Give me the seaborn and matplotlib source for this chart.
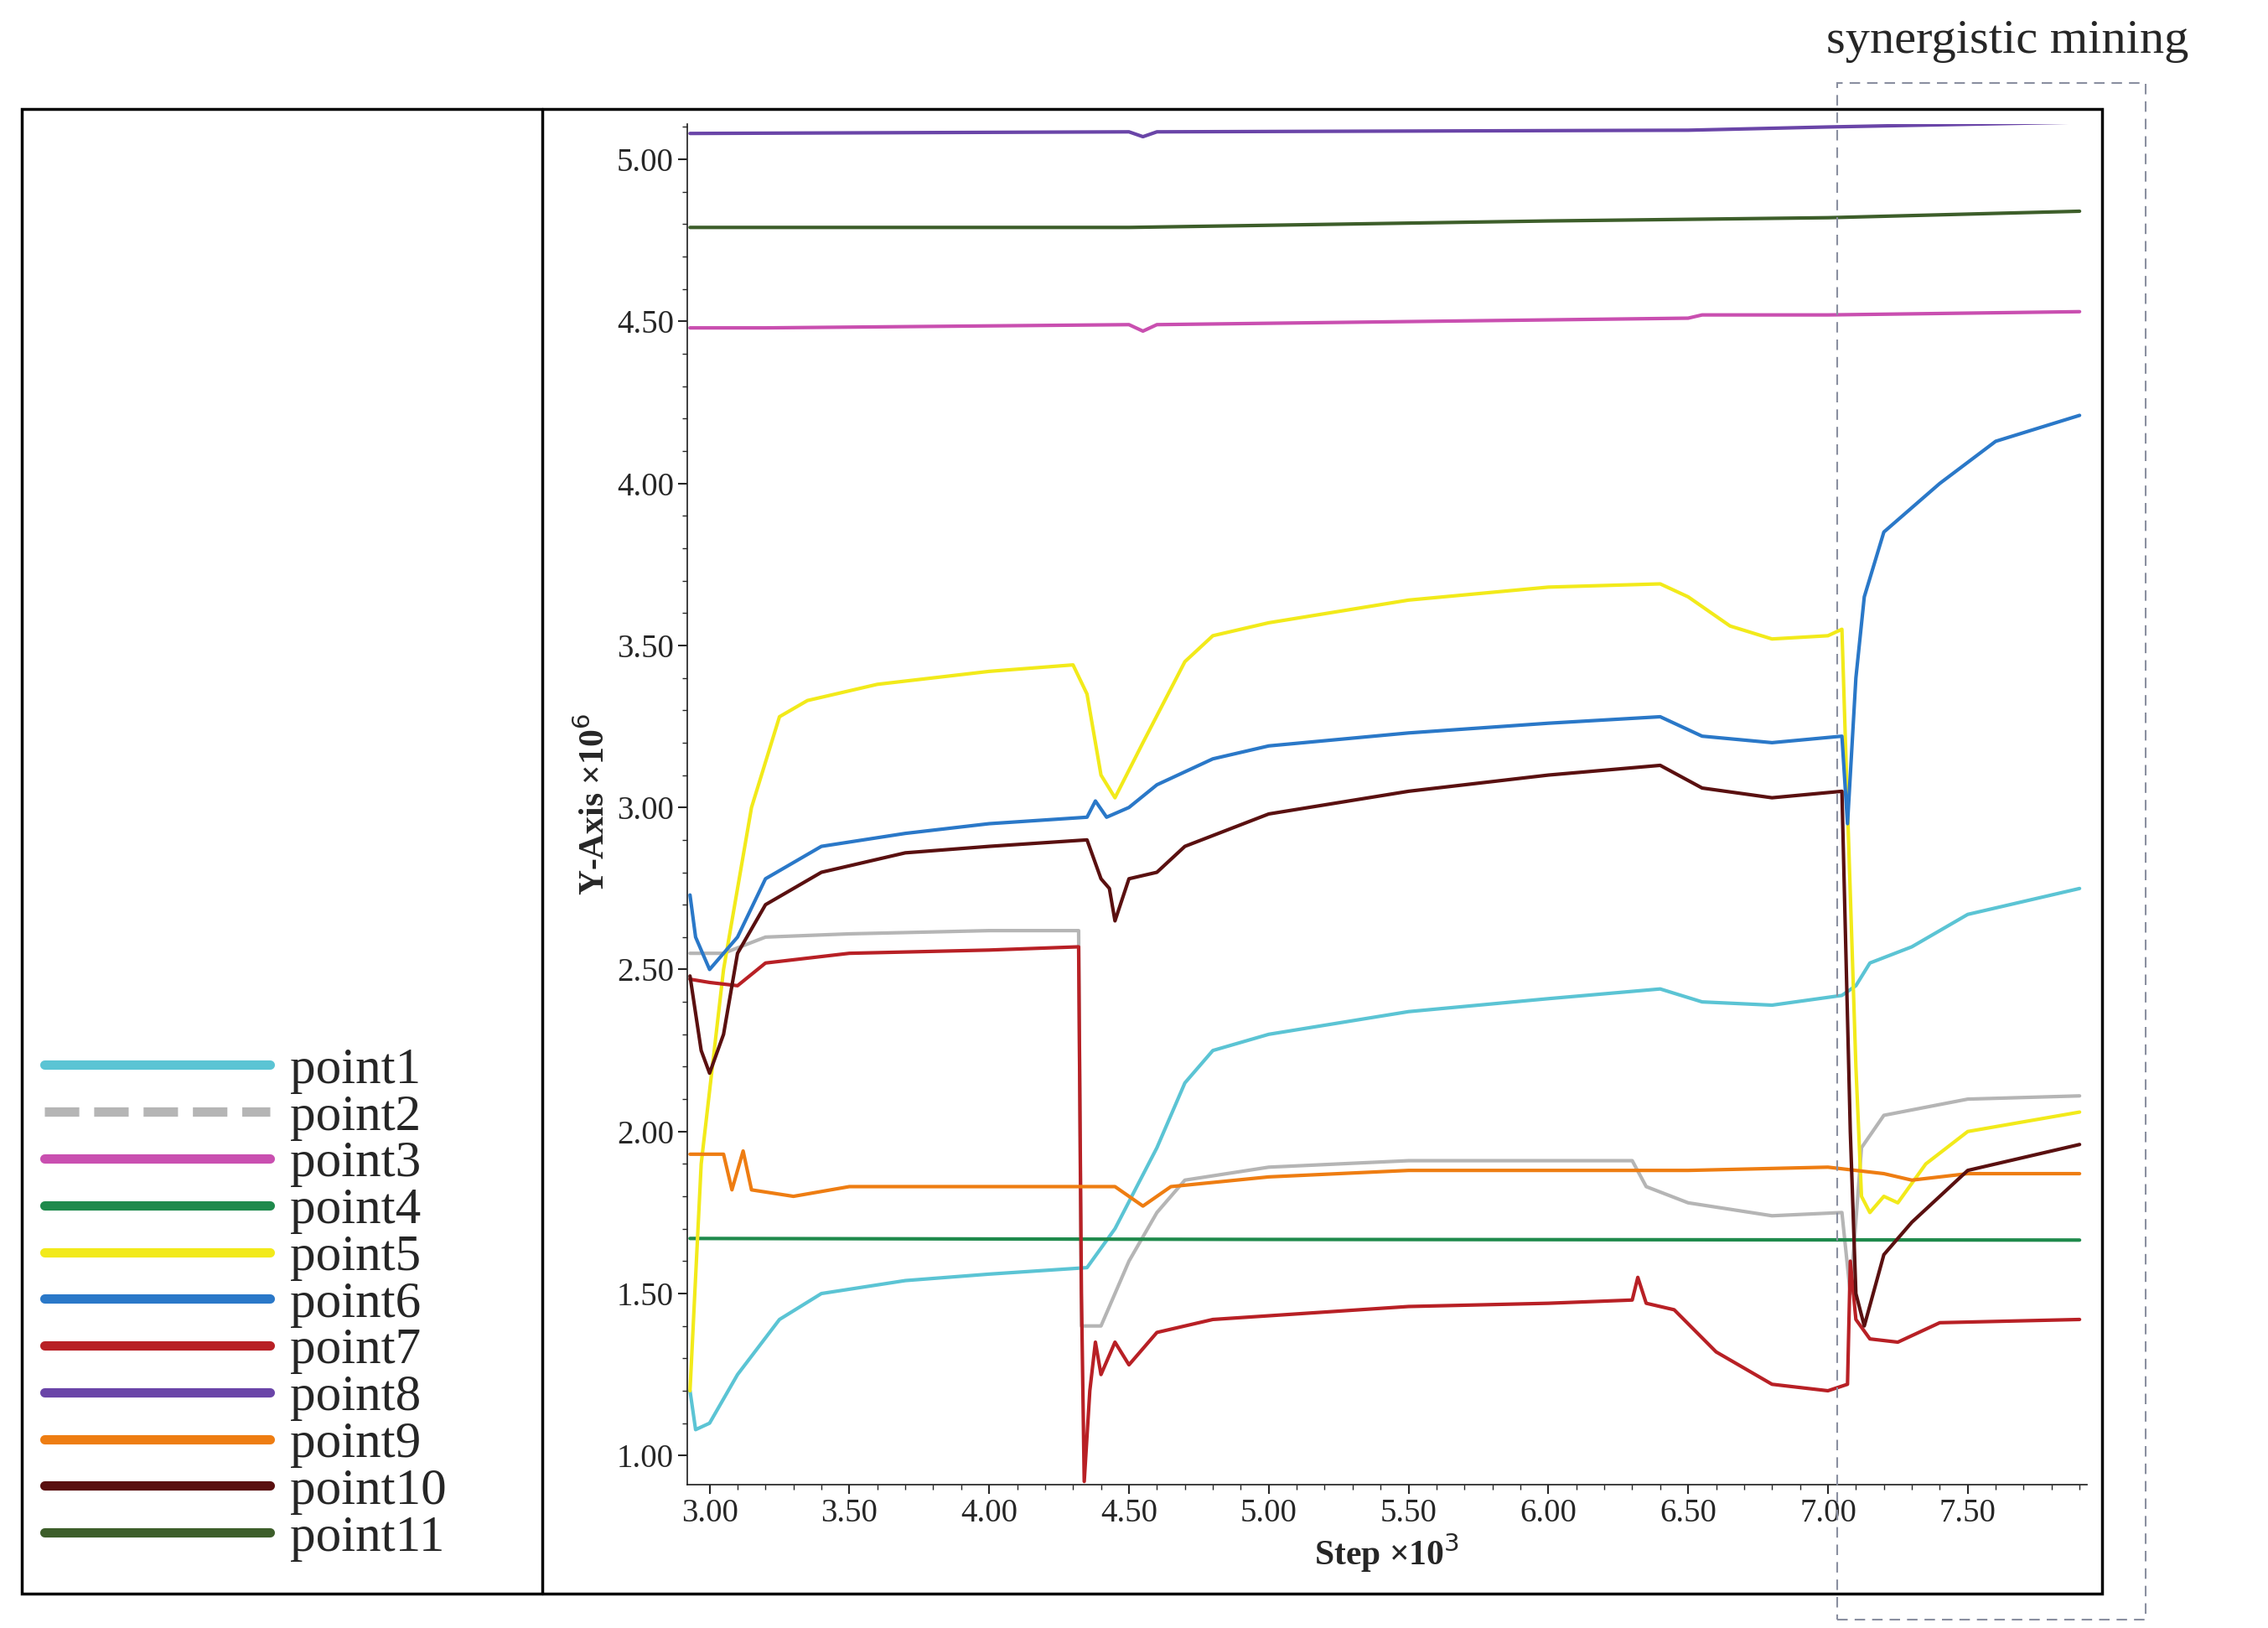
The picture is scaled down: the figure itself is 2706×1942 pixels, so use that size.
import matplotlib
matplotlib.use("Agg")
import matplotlib.pyplot as plt
import seaborn as sns
import pandas as pd
from matplotlib.patches import Rectangle
from matplotlib.lines import Line2D
from matplotlib.ticker import MultipleLocator, FormatStrFormatter

sns.set_theme(style="ticks")
plt.rcParams['font.family'] = ['Liberation Serif', 'DejaVu Serif']

p1x=[2.93,2.95,3.0,3.1,3.25,3.4,3.7,4.0,4.35,4.45,4.6,4.7,4.8,5.0,5.5,6.0,6.4,6.55,6.8,7.05,7.1,7.15,7.3,7.5,7.9]
p1y=[1.2,1.08,1.1,1.25,1.42,1.5,1.54,1.56,1.58,1.7,1.95,2.15,2.25,2.3,2.37,2.41,2.44,2.4,2.39,2.42,2.45,2.52,2.57,2.67,2.75]
p2x=[2.93,3.05,3.2,3.5,4.0,4.32,4.33,4.4,4.5,4.6,4.7,5.0,5.5,6.0,6.3,6.35,6.5,6.8,7.05,7.08,7.12,7.2,7.5,7.9]
p2y=[2.55,2.55,2.6,2.61,2.62,2.62,1.4,1.4,1.6,1.75,1.85,1.89,1.91,1.91,1.91,1.83,1.78,1.74,1.75,1.5,1.95,2.05,2.1,2.11]
p3x=[2.93,3.2,4.5,4.55,4.6,6.5,6.55,7.0,7.9]
p3y=[4.48,4.48,4.49,4.47,4.49,4.51,4.52,4.52,4.53]
p4x=[2.93,5.0,7.9]
p4y=[1.67,1.667,1.665]
p5x=[2.93,2.97,3.05,3.15,3.25,3.35,3.6,4.0,4.3,4.35,4.4,4.45,4.55,4.7,4.8,5.0,5.5,6.0,6.4,6.5,6.65,6.8,7.0,7.05,7.07,7.1,7.12,7.15,7.2,7.25,7.35,7.5,7.9]
p5y=[1.2,1.9,2.5,3.0,3.28,3.33,3.38,3.42,3.44,3.35,3.1,3.03,3.2,3.45,3.53,3.57,3.64,3.68,3.69,3.65,3.56,3.52,3.53,3.55,3.0,2.2,1.8,1.75,1.8,1.78,1.9,2.0,2.06]
p6x=[2.93,2.95,3.0,3.1,3.2,3.4,3.7,4.0,4.35,4.38,4.42,4.5,4.6,4.8,5.0,5.5,6.0,6.4,6.55,6.8,7.05,7.07,7.1,7.13,7.2,7.4,7.6,7.9]
p6y=[2.73,2.6,2.5,2.6,2.78,2.88,2.92,2.95,2.97,3.02,2.97,3.0,3.07,3.15,3.19,3.23,3.26,3.28,3.22,3.2,3.22,2.95,3.4,3.65,3.85,4.0,4.13,4.21]
p7x=[2.93,3.0,3.1,3.2,3.5,4.0,4.32,4.33,4.34,4.36,4.38,4.4,4.45,4.5,4.6,4.8,5.5,6.0,6.3,6.32,6.35,6.45,6.6,6.8,7.0,7.07,7.08,7.1,7.15,7.25,7.4,7.9]
p7y=[2.47,2.46,2.45,2.52,2.55,2.56,2.57,1.5,0.92,1.2,1.35,1.25,1.35,1.28,1.38,1.42,1.46,1.47,1.48,1.55,1.47,1.45,1.32,1.22,1.2,1.22,1.6,1.42,1.36,1.35,1.41,1.42]
p8x=[2.93,4.5,4.55,4.6,6.5,7.0,7.9]
p8y=[5.08,5.085,5.07,5.085,5.09,5.10,5.115]
p9x=[2.93,3.05,3.08,3.12,3.15,3.3,3.5,4.0,4.45,4.55,4.65,5.0,5.5,6.0,6.5,7.0,7.2,7.3,7.5,7.9]
p9y=[1.93,1.93,1.82,1.94,1.82,1.8,1.83,1.83,1.83,1.77,1.83,1.86,1.88,1.88,1.88,1.89,1.87,1.85,1.87,1.87]
p10x=[2.93,2.97,3.0,3.05,3.1,3.2,3.4,3.7,4.0,4.35,4.4,4.43,4.45,4.5,4.6,4.7,5.0,5.5,6.0,6.4,6.55,6.8,7.05,7.08,7.1,7.13,7.2,7.3,7.5,7.9]
p10y=[2.48,2.25,2.18,2.3,2.55,2.7,2.8,2.86,2.88,2.9,2.78,2.75,2.65,2.78,2.8,2.88,2.98,3.05,3.1,3.13,3.06,3.03,3.05,2.0,1.5,1.4,1.62,1.72,1.88,1.96]
p11x=[2.93,4.5,6.0,7.0,7.9]
p11y=[4.79,4.79,4.81,4.82,4.84]

names=["point1","point2","point3","point4","point5","point6","point7","point8","point9","point10","point11"]
colors=["#5bc4d4","#b5b5b5","#c94fb0","#1f8a4c","#f2ea1a","#2a78c8","#b82025","#6a45a8","#ee7d12","#5a1010","#3d5e2a"]
series=[(p1x,p1y),(p2x,p2y),(p3x,p3y),(p4x,p4y),(p5x,p5y),(p6x,p6y),(p7x,p7y),(p8x,p8y),(p9x,p9y),(p10x,p10y),(p11x,p11y)]
rows=[]
for n,(xs,ys) in zip(names,series):
    for x,y in zip(xs,ys):
        rows.append({"step":x,"val":y,"name":n})
df=pd.DataFrame(rows)

fig=plt.figure(figsize=(27.06,19.42),dpi=100)
ax=fig.add_axes([0.303,0.088,0.617,0.836])
sns.lineplot(data=df,x="step",y="val",hue="name",palette=dict(zip(names,colors)),
             sort=False,estimator=None,linewidth=3,ax=ax,legend=False)
ax.set_xlim(2.92,7.925); ax.set_ylim(0.91,5.11)
ax.xaxis.set_major_locator(MultipleLocator(0.5)); ax.xaxis.set_minor_locator(MultipleLocator(0.1))
ax.yaxis.set_major_locator(MultipleLocator(0.5)); ax.yaxis.set_minor_locator(MultipleLocator(0.1))
ax.xaxis.set_major_formatter(FormatStrFormatter('%.2f')); ax.yaxis.set_major_formatter(FormatStrFormatter('%.2f'))
ax.tick_params(labelsize=28, direction='out', length=8, width=1.5)
ax.tick_params(which='minor', length=4)
for s in ['top','right']: ax.spines[s].set_visible(False)
ax.set_xlabel("Step ×10$^3$",fontsize=30,fontweight='bold',labelpad=2)
ax.set_ylabel("Y-Axis ×10$^6$",fontsize=30,fontweight='bold',labelpad=4)

fig.patches.append(Rectangle((0.0097,0.021),0.917,0.912,transform=fig.transFigure,fill=False,lw=2.5,ec='black'))
fig.lines.append(Line2D([0.239,0.239],[0.021,0.933],transform=fig.transFigure,color='black',lw=2.5))
fig.patches.append(Rectangle((0.81,0.005),0.136,0.944,transform=fig.transFigure,fill=False,lw=1.5,ec='#8a8fa0',ls=(0,(6,4))))
fig.text(0.885,0.975,"synergistic mining",fontsize=42,ha='center',va='center')

handles=[Line2D([],[],color=c,lw=8,ls=('--' if n=="point2" else '-')) for n,c in zip(names,colors)]
fig.legend(handles,names,loc='lower left',bbox_to_anchor=(0.006,0.022),fontsize=44,handlelength=4.4,
           labelspacing=0.0,frameon=False,handletextpad=0.4,borderpad=0.1)
fig.savefig("out.png",dpi=100)
